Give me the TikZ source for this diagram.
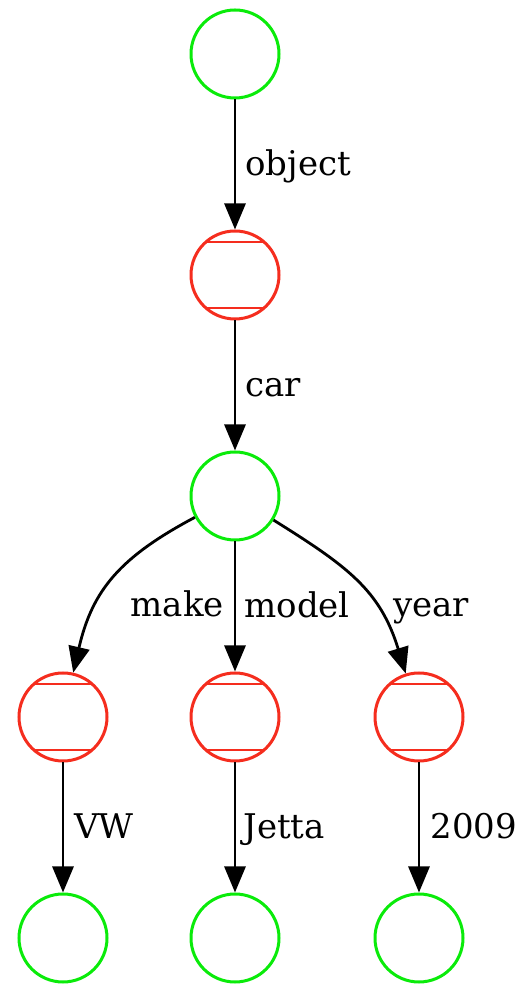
\documentclass[tikz,border=0pt]{standalone}
\usepackage{fontspec}
\setmainfont{DejaVu Serif}
\usetikzlibrary{arrows.meta,positioning}
\definecolor{blankgreen}{RGB}{10,235,10}
\definecolor{recordred}{RGB}{245,45,30}

\begin{document}
\begin{tikzpicture}[
            x=1pt, y=1pt,
            node distance=130pt,
            >={Triangle[length=26pt,width=21pt]}, auto,
            blank/.style={circle, draw=blankgreen, line width=3pt, minimum size=88pt, inner sep=0pt},
            record/.style={circle, draw=recordred, line width=3pt, minimum size=88pt, inner sep=0pt,
                path picture={\draw[recordred, line width=2.6pt]
                    ([yshift=33pt]path picture bounding box.center) +(-50pt,0) -- +(50pt,0)
                    ([yshift=-33pt]path picture bounding box.center) +(-50pt,0) -- +(50pt,0);}},
            lbl/.style={font=\fontsize{34}{40}\selectfont, inner sep=0pt, text height=30pt, text depth=7pt}
        ]
        \useasboundingbox (0,0) rectangle (521,985);
        \node[blank] (root) at (235,931) {};
        \node[record] (obj) [below=of root] {};
        \node[blank] (car) [below=of obj] {};
        \node[record] (model) [below=of car] {};
        \node[record] (make) [left=81pt of model] {};
        \node[record] (year) [right=93pt of model] {};
        \node[blank] (vw) [below=of make] {};
        \node[blank] (jetta) [below=of model] {};
        \node[blank] (y2009) [below=of year] {};
            \begin{scope}[line width=2.8pt]
                \path[->]
                    (root) edge node[lbl, right=9pt] {object} (obj)
                    (obj) edge node[lbl, right=9pt] {car} (car)
                    (car) edge node[lbl, right=8pt] {model} (model)
                    (car) edge[out=-152, in=77, looseness=1.1] (make)
                    (car) edge[out=-32, in=107, looseness=1.1] (year)
                    (make) edge node[lbl, right=10pt] {VW} (vw)
                    (model) edge node[lbl, right=7pt] {Jetta} (jetta)
                    (year) edge node[lbl, right=10pt] {2009} (y2009);
            \end{scope}
        \node[lbl, anchor=base east] (makelbl) at (224,368) {make};
        \node[lbl, anchor=base west] (yearlbl) at (393,368) {year};
        \end{tikzpicture}
\end{document}
